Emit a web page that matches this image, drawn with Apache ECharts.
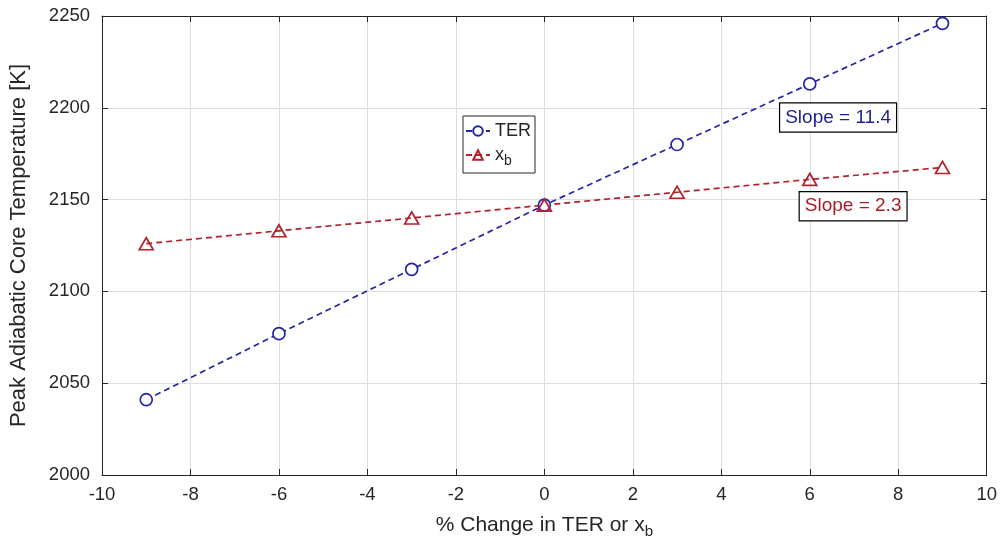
<!DOCTYPE html>
<html><head><meta charset="utf-8">
<script src="https://cdn.jsdelivr.net/npm/echarts@6/dist/echarts.min.js"></script>
<style>html,body{margin:0;padding:0;background:#fff}#c{width:1000px;height:544px}</style>
</head><body><div id="c"></div>
<script>
var xValues = [-9, -6, -3, 0, 3, 6, 9];
var terValues = [2041, 2077, 2112, 2147, 2180, 2213, 2246];
var xbValues = [2126, 2133, 2140, 2147, 2154, 2161, 2167.5];
var seriesNames = ['TER', 'xb'];
var slopeLabels = ['Slope = 11.4', 'Slope = 2.3'];
var xTicks = [-10, -8, -6, -4, -2, 0, 2, 4, 6, 8, 10];
var yTicks = [2000, 2050, 2100, 2150, 2200, 2250];

var blue = '#2424a6', red = '#b3212b', ink = '#262626';
var FONT = '"Liberation Sans", Arial, sans-serif';
function pairs(ys){ return xValues.map(function(x,i){ return [x, ys[i]]; }); }

var chart = echarts.init(document.getElementById('c'), null, {renderer:'canvas'});
function axCommon(){ return {
  axisLine:{show:true, onZero:false, lineStyle:{color:ink, width:1}},
  axisTick:{show:true, inside:true, length:6, lineStyle:{color:ink}}
};}
chart.setOption({
  animation:false,
  textStyle:{fontFamily:FONT},
  grid:{left:100, right:13, top:16, bottom:67},
  xAxis:[
    Object.assign({type:'value', min:xTicks[0], max:xTicks[xTicks.length-1], interval:2,
      name:'% Change in TER or x{sub|b}', nameLocation:'middle', nameGap:37,
      nameTextStyle:{fontSize:21, color:ink, fontFamily:FONT, rich:{sub:{fontSize:15, verticalAlign:'bottom', padding:[12,0,0,0], color:ink, fontFamily:FONT}}},
      axisLabel:{fontSize:18.5, color:ink, margin:10, fontFamily:FONT, formatter:function(v){return String(v);}},
      splitLine:{show:true, lineStyle:{color:'#dedede'}}}, axCommon()),
    Object.assign({type:'value', position:'top', min:-10, max:10, interval:2,
      axisLabel:{show:false}, splitLine:{show:false}}, axCommon())
  ],
  yAxis:[
    Object.assign({type:'value', min:yTicks[0], max:yTicks[yTicks.length-1], interval:50,
      name:'Peak Adiabatic Core Temperature [K]', nameLocation:'middle', nameGap:72, nameRotate:90,
      nameTextStyle:{fontSize:22, color:ink, fontFamily:FONT},
      axisLabel:{fontSize:18.5, color:ink, margin:12, fontFamily:FONT, formatter:function(v){return String(v);}},
      splitLine:{show:true, lineStyle:{color:'#dedede'}}}, axCommon()),
    Object.assign({type:'value', position:'right', min:2000, max:2250, interval:50,
      axisLabel:{show:false}, splitLine:{show:false}}, axCommon())
  ],
  legend:{
    orient:'vertical', left:463, top:116, itemWidth:24, itemHeight:12, itemGap:6,
    padding:[6,4,5,2], borderColor:ink, borderWidth:1, backgroundColor:'#fff',
    textStyle:{fontSize:18, color:ink, fontFamily:FONT, rich:{sub:{fontSize:14, padding:[12,0,0,0], color:ink, fontFamily:FONT}}},
    formatter:function(n){ return n === 'xb' ? 'x{sub|b}' : n; },
    data:seriesNames
  },
  series:[
    {name:seriesNames[0], type:'line', data:pairs(terValues), symbol:'circle', symbolSize:12,
     itemStyle:{color:'#fff', borderColor:blue, borderWidth:1.7},
     lineStyle:{color:blue, width:1.7, type:[6,4]}, z:3},
    {name:seriesNames[1], type:'line', data:pairs(xbValues), symbol:'triangle', symbolSize:[14,12],
     itemStyle:{color:'rgba(255,255,255,0)', borderColor:red, borderWidth:1.7},
     lineStyle:{color:red, width:1.7, type:[6,4]}, z:3}
  ]
});

var p1 = chart.convertToPixel({gridIndex:0}, [6.64, 2194.7]);
var p2 = chart.convertToPixel({gridIndex:0}, [6.98, 2146.4]);
function box(p, text, color){
  return {type:'text', x:p[0], y:p[1], z:10,
    style:{text:text, fill:color, font:'19px ' + FONT, align:'center', verticalAlign:'middle',
      backgroundColor:'#fff', borderColor:'#000', borderWidth:1.2, padding:[5,5,4,5]}};
}
chart.setOption({graphic:[box(p1, slopeLabels[0], '#1f1f8f'), box(p2, slopeLabels[1], '#a51d25')]});
</script></body></html>
